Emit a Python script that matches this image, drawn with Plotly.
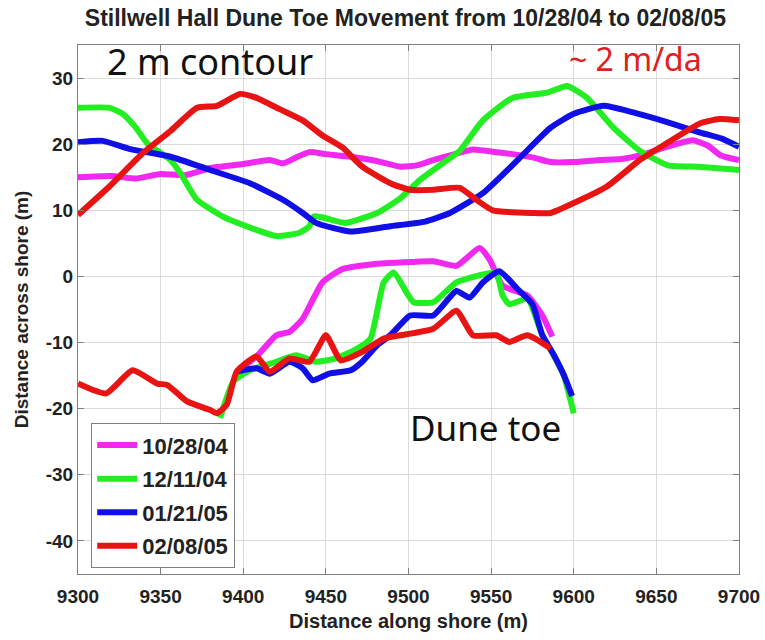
import plotly.graph_objects as go

# ---- data ----
dates = ["10/28/04", "12/11/04", "01/21/05", "02/08/05"]
colors = ["#F028F0", "#22EE22", "#1010E6", "#E81414"]

# 2 m contour (upper curves)
mag_up_x = [9300, 9320, 9335, 9350, 9365, 9380, 9400, 9416, 9424, 9432, 9440, 9450, 9465, 9480, 9495, 9505, 9515, 9528, 9539, 9550, 9560, 9575, 9586, 9600, 9616, 9630, 9640, 9655, 9672, 9681, 9689, 9700]
mag_up_y = [15.0, 15.2, 14.8, 15.5, 15.3, 16.4, 17.0, 17.6, 17.1, 18.0, 18.8, 18.5, 18.1, 17.5, 16.6, 16.8, 17.6, 18.5, 19.2, 18.9, 18.6, 18.0, 17.3, 17.3, 17.6, 17.8, 18.3, 19.5, 20.6, 19.8, 18.3, 17.6]

grn_up_x = [9300, 9319, 9327, 9335, 9342, 9356, 9362, 9372, 9388, 9404, 9420, 9434, 9440, 9443, 9450, 9462, 9481, 9495, 9507, 9520, 9531, 9545, 9563, 9584, 9596, 9608, 9624, 9640, 9657, 9676, 9700]
grn_up_y = [25.5, 25.5, 24.6, 22.5, 20.1, 17.6, 15.6, 11.6, 9.0, 7.4, 6.1, 6.6, 7.6, 9.1, 8.8, 8.1, 9.6, 11.8, 14.6, 17.0, 19.0, 23.6, 27.0, 27.8, 28.8, 27.0, 22.5, 19.0, 16.8, 16.6, 16.1]

blu_up_x = [9300, 9315, 9331, 9356, 9380, 9404, 9424, 9436, 9444, 9465, 9489, 9510, 9525, 9545, 9566, 9586, 9600, 9618, 9636, 9657, 9676, 9690, 9700]
blu_up_y = [20.3, 20.5, 19.3, 18.1, 16.1, 14.1, 11.6, 9.6, 8.1, 6.8, 7.6, 8.3, 9.6, 12.6, 17.6, 22.5, 24.6, 25.8, 24.8, 23.3, 21.8, 20.8, 19.6]

red_up_x = [9300, 9319, 9339, 9356, 9372, 9384, 9398, 9408, 9422, 9436, 9448, 9460, 9472, 9489, 9501, 9515, 9531, 9541, 9551, 9575, 9586, 9600, 9620, 9640, 9656, 9676, 9688, 9700]
red_up_y = [9.3, 13.6, 18.6, 22.0, 25.5, 25.8, 27.6, 27.0, 25.3, 23.6, 21.3, 19.5, 16.6, 14.1, 13.1, 13.1, 13.4, 11.6, 10.0, 9.6, 9.6, 11.1, 13.6, 17.6, 20.1, 23.1, 23.8, 23.6]

# Dune toe (lower curves)
mag_lo_x = [9396, 9408, 9420, 9428, 9436, 9448, 9460, 9477, 9495, 9515, 9529, 9543, 9549, 9557, 9572, 9581, 9587]
mag_lo_y = [-14.4, -12.1, -8.9, -8.4, -6.4, -0.9, 1.1, 1.8, 2.1, 2.3, 1.6, 4.3, 2.6, -1.4, -2.9, -5.9, -9.1]

grn_lo_x = [9386, 9394, 9404, 9420, 9432, 9444, 9456, 9469, 9477, 9485, 9491, 9499, 9503, 9515, 9529, 9545, 9553, 9557, 9561, 9572, 9581, 9588, 9594, 9600]
grn_lo_y = [-21.4, -15.9, -14.2, -12.9, -11.9, -12.9, -12.4, -10.9, -9.4, -0.9, 0.6, -2.5, -3.9, -3.9, -0.9, 0.3, 0.6, -2.9, -4.2, -3.4, -8.9, -12.0, -15.0, -20.7]

blu_lo_x = [9396, 9408, 9416, 9428, 9436, 9442, 9452, 9465, 9472, 9481, 9489, 9501, 9515, 9529, 9537, 9545, 9555, 9566, 9575, 9581, 9588, 9594, 9599]
blu_lo_y = [-14.4, -13.9, -14.7, -12.9, -13.9, -15.7, -14.7, -14.2, -12.9, -10.4, -8.9, -5.9, -5.9, -2.2, -3.2, -0.9, 0.8, -1.9, -4.2, -8.9, -11.9, -14.9, -18.1]

red_lo_x = [9300, 9317, 9333, 9348, 9354, 9366, 9380, 9384, 9390, 9396, 9408, 9416, 9428, 9440, 9450, 9459, 9472, 9485, 9495, 9515, 9529, 9539, 9553, 9561, 9572, 9586]
red_lo_y = [-16.2, -17.7, -14.2, -16.2, -16.4, -18.9, -20.2, -20.7, -19.4, -14.4, -12.1, -14.4, -12.4, -12.9, -8.9, -12.7, -11.4, -9.4, -8.9, -7.9, -5.2, -8.9, -8.9, -9.9, -8.9, -10.9]

x_ticks = [9300, 9350, 9400, 9450, 9500, 9550, 9600, 9650, 9700]
y_ticks = [-40, -30, -20, -10, 0, 10, 20, 30]

series = [
    (mag_up_x, mag_up_y, mag_lo_x, mag_lo_y),
    (grn_up_x, grn_up_y, grn_lo_x, grn_lo_y),
    (blu_up_x, blu_up_y, blu_lo_x, blu_lo_y),
    (red_up_x, red_up_y, red_lo_x, red_lo_y),
]

fig = go.Figure()
for i, (ux, uy, lx, ly) in enumerate(series):
    fig.add_trace(go.Scatter(
        x=ux + [None] + lx, y=uy + [None] + ly,
        mode="lines", name=dates[i], legendgroup=dates[i],
        line=dict(color=colors[i], width=6, shape="spline", smoothing=0.5),
        connectgaps=False,
    ))

FONT = "Liberation Sans, Arial"
axis_common = dict(
    showgrid=True, gridcolor="#dadada", gridwidth=1,
    showline=True, linecolor="#808080", linewidth=1, mirror="ticks",
    ticks="inside", ticklen=6, tickcolor="#808080",
    tickfont=dict(family=FONT, size=19, color="#222222", weight="bold"),
    zeroline=False, automargin=False,
)

fig.update_layout(
    width=765, height=640,
    margin=dict(l=78, r=26, t=45, b=66),
    paper_bgcolor="white", plot_bgcolor="white",
    title=dict(text="Stillwell Hall Dune Toe Movement from 10/28/04 to 02/08/05",
               x=0.53, xanchor="center", y=0.972, yanchor="middle",
               font=dict(family=FONT, size=23, color="#222222", weight="bold")),
    xaxis=dict(range=[9300, 9700], tickvals=x_ticks, ticktext=[str(v) for v in x_ticks],
               ticklabelstandoff=5,
               title=dict(text="Distance along shore (m)", standoff=8,
                          font=dict(family=FONT, size=20, color="#222222", weight="bold")),
               **axis_common),
    yaxis=dict(range=[-45, 35], tickvals=y_ticks, ticktext=[str(v) for v in y_ticks],
               title=dict(text="Distance across shore (m)", standoff=12,
                          font=dict(family=FONT, size=19, color="#222222", weight="bold")),
               **axis_common),
    legend=dict(x=0.02, y=0.285, xanchor="left", yanchor="top",
                bgcolor="white", bordercolor="#808080", borderwidth=1,
                font=dict(family=FONT, size=22, color="#222222", weight="bold"),
                tracegroupgap=2, itemwidth=40),
    showlegend=True,
)

L, R, T, B = 78, 739, 45, 574


def px_ann(text, px, py, size, color):
    fig.add_annotation(text=text, x=(px - L) / (R - L), y=(B - py) / (B - T),
                       xref="paper", yref="paper", xanchor="center", yanchor="middle",
                       showarrow=False, font=dict(family="Noto Sans", size=size, color=color))


px_ann("2 m contour", 210, 62, 36, "#111111")
px_ann("~ 2 m/da", 635, 58, 32, "#E02020")
px_ann("Dune toe", 485, 427, 35, "#111111")

fig.write_html("out.html", config={"displayModeBar": False},
               post_script="document.body.style.margin='0';document.body.style.padding='0';")
